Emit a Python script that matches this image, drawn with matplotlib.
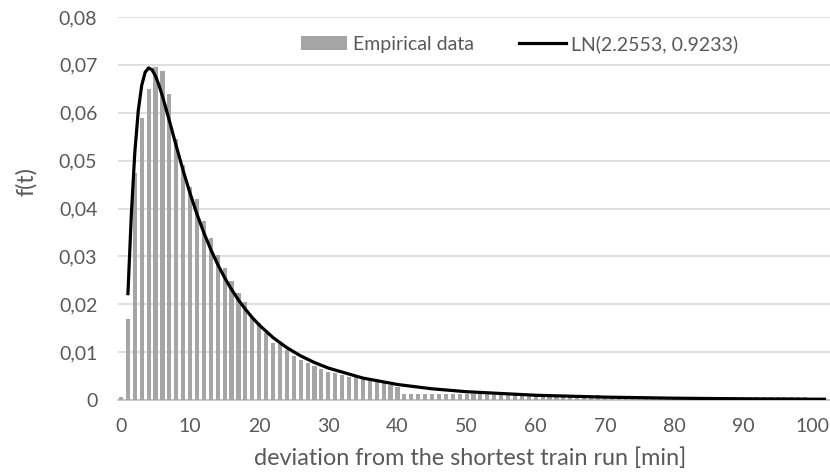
import matplotlib
matplotlib.use("Agg")
import matplotlib.pyplot as plt
from matplotlib.patches import Patch
from matplotlib.lines import Line2D

# ---- data ----
bar_x = list(range(0, 103))
bar_values = [
    0.0007, 0.0169, 0.0474, 0.0590, 0.0650, 0.0696, 0.0687, 0.0639, 0.0545, 0.0490,
    0.0445, 0.0419, 0.0373, 0.0339, 0.0303, 0.0276, 0.0249, 0.0223, 0.0204, 0.0174,
    0.0160, 0.0140, 0.0120, 0.0118, 0.0104, 0.0092, 0.0084, 0.0077, 0.0070, 0.0064,
    0.0059, 0.0056, 0.0052, 0.0049, 0.0047, 0.0045, 0.0040, 0.0037, 0.0035, 0.0031,
    0.0028, 0.0013, 0.0013, 0.0013, 0.0013, 0.0013, 0.0013, 0.0013, 0.0013, 0.0013,
    0.0012, 0.0012, 0.0012, 0.0012, 0.0012, 0.0012, 0.0012, 0.0012, 0.0012, 0.0012,
    0.0011, 0.0011, 0.0011, 0.0011, 0.0011, 0.0011, 0.0011, 0.0011, 0.0011, 0.0011,
    0.0007, 0.0007, 0.0007, 0.0007, 0.0007, 0.0007, 0.0007, 0.0007, 0.0007, 0.0007,
    0.0007, 0.0007, 0.0007, 0.0007, 0.0007, 0.0007, 0.0007, 0.0007, 0.0007, 0.0007,
    0.0007, 0.0007, 0.0007, 0.0007, 0.0007, 0.0007, 0.0007, 0.0007, 0.0007, 0.0007,
    0.0, 0.0, 0.0,
]

curve_x = [1, 1.5, 2, 2.5, 3, 3.5, 4, 4.5, 5, 5.5, 6, 7, 8, 9, 10, 11, 12, 13, 14,
           15, 16, 17, 18, 19, 20, 22, 24, 26, 28, 30, 35, 40, 45, 50, 60, 70, 80,
           90, 100, 102]
curve_y = [0.02188, 0.03871, 0.05164, 0.06039, 0.06571, 0.06847, 0.06937, 0.06896,
           0.06766, 0.06576, 0.06349, 0.05836, 0.05304, 0.04791, 0.04315, 0.03881,
           0.03491, 0.03142, 0.02831, 0.02554, 0.02308, 0.02089, 0.01895, 0.01721,
           0.01566, 0.01304, 0.01093, 0.00921, 0.00782, 0.00667, 0.00458, 0.00324,
           0.00234, 0.00173, 0.00099, 0.00060, 0.00038, 0.00025, 0.00017, 0.00016]

y_ticks = [0, 0.01, 0.02, 0.03, 0.04, 0.05, 0.06, 0.07, 0.08]
y_tick_labels = ["0", "0,01", "0,02", "0,03", "0,04", "0,05", "0,06", "0,07", "0,08"]
x_ticks = [0, 10, 20, 30, 40, 50, 60, 70, 80, 90, 100]
x_tick_labels = [str(v) for v in x_ticks]

series_labels = ["Empirical data", "LN(2.2553, 0.9233)"]
x_title = "deviation from the shortest train run [min]"
y_title = "f(t)"

# ---- style ----
plt.rcParams["font.family"] = ["Lato", "DejaVu Sans"]
text_color = "#595959"
bar_color = "#A5A5A5"
grid_color = "#D9D9D9"
fs = 14
fs_title = 16.8

fig = plt.figure(figsize=(8.30, 4.74), dpi=100)
ax = fig.add_axes([117.5 / 830, (474 - 400) / 474, (829.5 - 117.5) / 830, (400 - 17) / 474])

ax.bar(bar_x, bar_values, width=0.6, color=bar_color, zorder=2)
ax.plot(curve_x, curve_y, color="black", linewidth=2.3, zorder=3,
        solid_capstyle="butt", solid_joinstyle="round")

ax.set_xlim(-0.5, 102.5)
ax.set_ylim(0, 0.08)
ax.set_yticks(y_ticks)
ax.set_yticklabels(y_tick_labels)
ax.set_xticks(x_ticks)
ax.set_xticklabels(x_tick_labels)

ax.yaxis.grid(True, color=grid_color, linewidth=1.2, zorder=0)
ax.set_axisbelow(True)
for s in ["top", "right", "left"]:
    ax.spines[s].set_visible(False)
ax.spines["bottom"].set_color("#BFBFBF")
ax.spines["bottom"].set_linewidth(1.2)
ax.spines["bottom"].set_zorder(1)

ax.tick_params(axis="both", length=0, labelsize=fs, colors=text_color)
ax.tick_params(axis="y", pad=14.5)
ax.tick_params(axis="x", pad=13)

fig.text((253.6 + 687.5) / 2 / 830, 1 - 458 / 474, x_title, fontsize=fs_title,
         color=text_color, ha="center", va="center")
fig.text(26 / 830, 1 - 182 / 474, y_title, rotation=90, fontsize=fs_title, color=text_color,
         ha="center", va="center")

handles = [Patch(facecolor=bar_color, edgecolor="none"),
           Line2D([0], [0], color="black", linewidth=2.3)]
leg = ax.legend(handles, series_labels, ncol=2, loc="center",
                bbox_to_anchor=(0.626, 1 - 44 / 474), bbox_transform=fig.transFigure,
                frameon=False, fontsize=fs, handlelength=2.4, handleheight=0.75,
                handletextpad=0.3, columnspacing=2.3)
for t in leg.get_texts():
    t.set_color(text_color)

fig.savefig("out.png", dpi=100)
